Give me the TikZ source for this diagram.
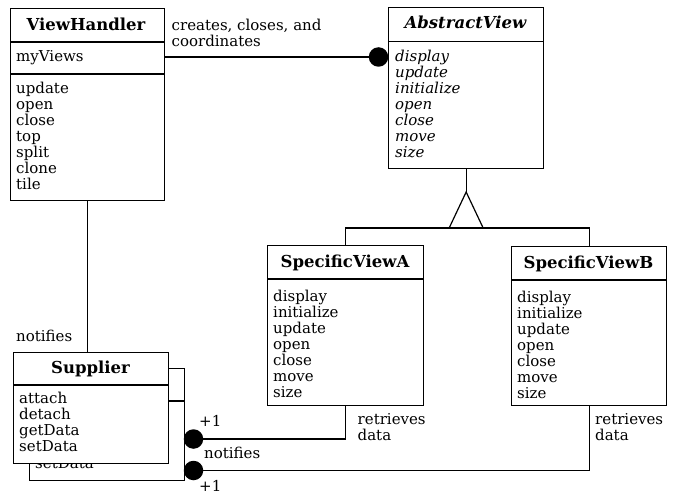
\documentclass[tikz,border=0pt]{standalone}
\usepackage{fontspec}
\setmainfont{DejaVu Serif}
\usetikzlibrary{calc}
\newcommand\fstrut{\rule{0pt}{13bp}}
\begin{document}
\begin{tikzpicture}[x=1bp,y=-1bp,
  box/.style={draw, line width=1.3bp, inner sep=0pt, fill=white, anchor=north west},
  divl/.style={line width=1.3bp},
  conn/.style={line width=1.2bp},
  ttl/.style={inner sep=0pt, anchor=base, font=\fontsize{16.5bp}{17bp}\selectfont\bfseries},
  ttli/.style={ttl, font=\fontsize{16.5bp}{17bp}\selectfont\bfseries\itshape},
  lst/.style={inner sep=0pt, anchor=north west, align=left, font=\fontsize{15bp}{16bp}\selectfont},
  lsti/.style={lst, font=\fontsize{15bp}{16bp}\selectfont\itshape},
  lbl/.style={inner sep=0pt, anchor=base west, font=\fontsize{15bp}{16bp}\selectfont},
  dot/.style={circle, fill=black, draw=none, minimum size=19.5bp, inner sep=0pt}]
\useasboundingbox (0,0) rectangle (678,499);
\fill[white] (0,0) rectangle (678,499);

% ViewHandler
\node[box, minimum width=154bp, minimum height=192bp] (vh) at (10,8) {};
\draw[divl] (vh.west |- 0,42) -- (vh.east |- 0,42);
\draw[divl] (vh.west |- 0,74) -- (vh.east |- 0,74);
\node[ttl] (vht) at (86,30.5) {ViewHandler};
\node[lbl] (vha) at (16,62) {myViews};
\node[lst] (vhm) at (16,80) {\fstrut update\\open\\close\\top\\split\\clone\\tile};

% AbstractView
\node[box, minimum width=155bp, minimum height=161bp] (av) at (388,7) {};
\draw[divl] (av.west |- 0,41.5) -- (av.east |- 0,41.5);
\node[ttli] (avt) at (465.5,28.5) {AbstractView};
\node[lsti] (avm) at (395,48.7) {\fstrut display\\update\\initialize\\open\\close\\move\\size};

% SpecificViewA
\node[box, minimum width=156bp, minimum height=160bp] (sva) at (267,245) {};
\draw[divl] (sva.west |- 0,279) -- (sva.east |- 0,279);
\node[ttl] (svat) at (345,267.5) {SpecificViewA};
\node[lst] (svam) at (273,288.5) {\fstrut display\\initialize\\update\\open\\close\\move\\size};

% SpecificViewB
\node[box, minimum width=155bp, minimum height=159bp] (svb) at (511,246) {};
\draw[divl] (svb.west |- 0,280) -- (svb.east |- 0,280);
\node[ttl] (svbt) at (588.5,268.5) {SpecificViewB};
\node[lst] (svbm) at (517,289.5) {\fstrut display\\initialize\\update\\open\\close\\move\\size};

% Supplier shadow copy (only its last line shows below the front box)
\node[box, minimum width=155bp, minimum height=112bp] (sups) at (29,368) {};
\draw[divl] (sups.west |- 0,401) -- (sups.east |- 0,401);
\node[lbl] (supsm) at (35,468.5) {setData};

% Supplier
\node[box, minimum width=155bp, minimum height=111bp] (sup) at (13,352) {};
\draw[divl] (sup.west |- 0,385) -- (sup.east |- 0,385);
\node[ttl] (supt) at (90.5,373.5) {Supplier};
\node[lst] (supm) at (19,390) {\fstrut attach\\detach\\getData\\setData};

% association ViewHandler -> AbstractView
\node[dot] (dv) at (378.5,57) {};
\draw[conn] (vh.east |- dv) -- (dv);
\node[lst] (lc) at (171.5,17.5) {\fstrut creates, closes, and\\coordinates};

% inheritance
\coordinate (apex) at (av.south |- 0,192);
\coordinate (barl) at (sva.north |- 0,228);
\coordinate (barr) at (svb.north |- 0,228);
\draw[conn] (av.south) -- (apex);
\draw[conn] (apex) -- ($(apex)+(-17,36)$) -- ($(apex)+(17,36)$) -- cycle;
\draw[conn] (sva.north) -- (barl) -- (barr) -- (svb.north);

% ViewHandler - Supplier
\draw[conn] (vh.south) -- (vh.south |- sup.north);
\node[lbl] (ln1) at (16,341) {notifies};

% retrieves data
\node[dot] (d1) at (193.5,439) {};
\node[dot] (d2) at (193.5,470.5) {};
\draw[conn] (sva.south) |- (d1);
\draw[conn] (svb.south) |- (d2);
\node[lst] (lr1) at (357.5,411) {\fstrut retrieves\\data};
\node[lst] (lr2) at (595,411) {\fstrut retrieves\\data};
\node[lbl] (p1) at (199,426) {+1};
\node[lbl] (ln2) at (204,458) {notifies};
\node[lbl] (p2) at (199,491) {+1};
\end{tikzpicture}
\end{document}
